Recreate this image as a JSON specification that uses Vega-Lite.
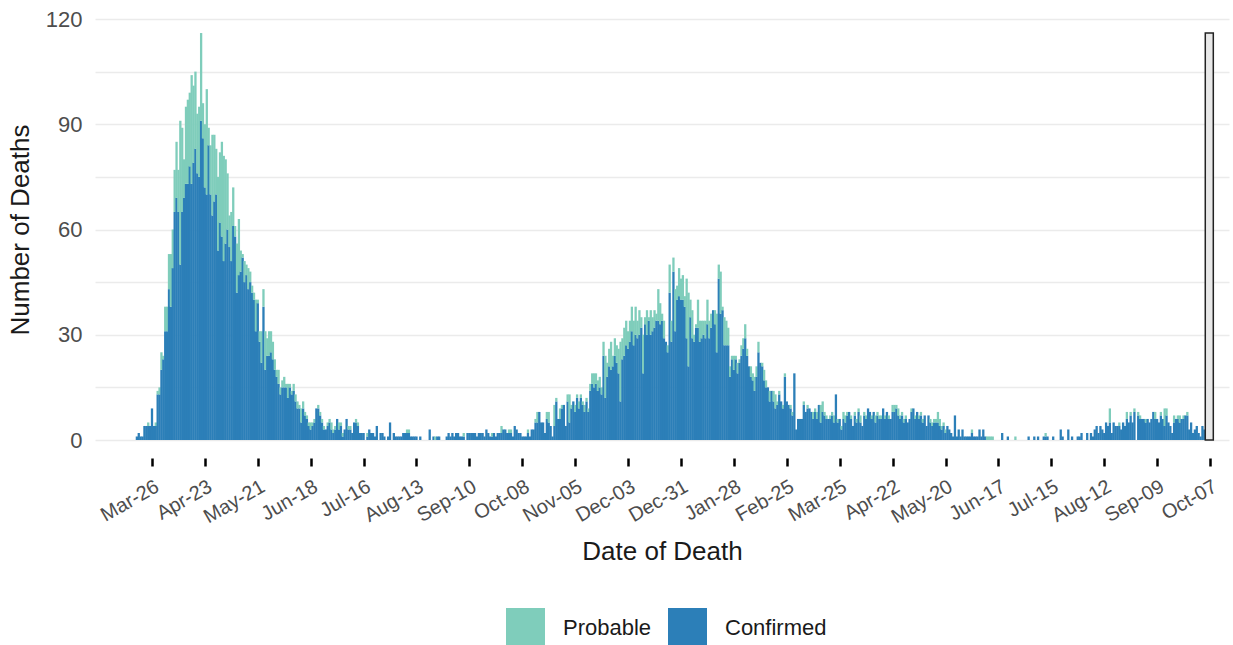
{
"$schema":"https://vega.github.io/schema/vega-lite/v6.json",
"width":1134,"height":421,
"autosize":{"type":"none"},
"padding":{"left":95,"top":19,"right":4,"bottom":205},
"background":"white",
"config":{"view":{"stroke":null},"font":"Liberation Sans"},
"layer":[
{
"data":{"values":[
{"date":"2020-03-18","Confirmed":1,"Probable":0},{"date":"2020-03-19","Confirmed":2,"Probable":0},{"date":"2020-03-20","Confirmed":1,"Probable":0},{"date":"2020-03-21","Confirmed":1,"Probable":0},{"date":"2020-03-22","Confirmed":4,"Probable":0},{"date":"2020-03-23","Confirmed":4,"Probable":0},{"date":"2020-03-24","Confirmed":4,"Probable":1},{"date":"2020-03-25","Confirmed":4,"Probable":0},{"date":"2020-03-26","Confirmed":9,"Probable":0},{"date":"2020-03-27","Confirmed":4,"Probable":0},{"date":"2020-03-28","Confirmed":4,"Probable":1},{"date":"2020-03-29","Confirmed":13,"Probable":1},{"date":"2020-03-30","Confirmed":13,"Probable":2},{"date":"2020-03-31","Confirmed":20,"Probable":5},
{"date":"2020-04-01","Confirmed":23,"Probable":1},{"date":"2020-04-02","Confirmed":31,"Probable":7},{"date":"2020-04-03","Confirmed":31,"Probable":7},{"date":"2020-04-04","Confirmed":43,"Probable":10},{"date":"2020-04-05","Confirmed":38,"Probable":15},{"date":"2020-04-06","Confirmed":49,"Probable":11},{"date":"2020-04-07","Confirmed":65,"Probable":12},{"date":"2020-04-08","Confirmed":69,"Probable":16},{"date":"2020-04-09","Confirmed":65,"Probable":12},{"date":"2020-04-10","Confirmed":50,"Probable":41},{"date":"2020-04-11","Confirmed":65,"Probable":24},{"date":"2020-04-12","Confirmed":69,"Probable":11},{"date":"2020-04-13","Confirmed":73,"Probable":22},{"date":"2020-04-14","Confirmed":73,"Probable":24},{"date":"2020-04-15","Confirmed":78,"Probable":21},{"date":"2020-04-16","Confirmed":73,"Probable":31},{"date":"2020-04-17","Confirmed":79,"Probable":22},{"date":"2020-04-18","Confirmed":83,"Probable":22},{"date":"2020-04-19","Confirmed":76,"Probable":17},{"date":"2020-04-20","Confirmed":75,"Probable":20},{"date":"2020-04-21","Confirmed":91,"Probable":25},{"date":"2020-04-22","Confirmed":86,"Probable":10},{"date":"2020-04-23","Confirmed":72,"Probable":18},{"date":"2020-04-24","Confirmed":70,"Probable":30},{"date":"2020-04-25","Confirmed":84,"Probable":5},{"date":"2020-04-26","Confirmed":70,"Probable":14},{"date":"2020-04-27","Confirmed":64,"Probable":23},{"date":"2020-04-28","Confirmed":68,"Probable":19},{"date":"2020-04-29","Confirmed":70,"Probable":13},{"date":"2020-04-30","Confirmed":54,"Probable":21},
{"date":"2020-05-01","Confirmed":62,"Probable":20},{"date":"2020-05-02","Confirmed":58,"Probable":27},{"date":"2020-05-03","Confirmed":51,"Probable":30},{"date":"2020-05-04","Confirmed":56,"Probable":24},{"date":"2020-05-05","Confirmed":60,"Probable":16},{"date":"2020-05-06","Confirmed":55,"Probable":9},{"date":"2020-05-07","Confirmed":51,"Probable":14},{"date":"2020-05-08","Confirmed":61,"Probable":11},{"date":"2020-05-09","Confirmed":58,"Probable":3},{"date":"2020-05-10","Confirmed":42,"Probable":14},{"date":"2020-05-11","Confirmed":47,"Probable":16},{"date":"2020-05-12","Confirmed":48,"Probable":6},{"date":"2020-05-13","Confirmed":52,"Probable":1},{"date":"2020-05-14","Confirmed":45,"Probable":6},{"date":"2020-05-15","Confirmed":47,"Probable":3},{"date":"2020-05-16","Confirmed":43,"Probable":6},{"date":"2020-05-17","Confirmed":45,"Probable":3},{"date":"2020-05-18","Confirmed":42,"Probable":2},{"date":"2020-05-19","Confirmed":40,"Probable":2},{"date":"2020-05-20","Confirmed":31,"Probable":9},{"date":"2020-05-21","Confirmed":39,"Probable":1},{"date":"2020-05-22","Confirmed":28,"Probable":3},{"date":"2020-05-23","Confirmed":22,"Probable":9},{"date":"2020-05-24","Confirmed":38,"Probable":5},{"date":"2020-05-25","Confirmed":20,"Probable":11},{"date":"2020-05-26","Confirmed":24,"Probable":5},{"date":"2020-05-27","Confirmed":24,"Probable":7},{"date":"2020-05-28","Confirmed":25,"Probable":6},{"date":"2020-05-29","Confirmed":23,"Probable":5},{"date":"2020-05-30","Confirmed":20,"Probable":3},{"date":"2020-05-31","Confirmed":18,"Probable":2},
{"date":"2020-06-01","Confirmed":16,"Probable":4},{"date":"2020-06-02","Confirmed":13,"Probable":2},{"date":"2020-06-03","Confirmed":15,"Probable":2},{"date":"2020-06-04","Confirmed":15,"Probable":3},{"date":"2020-06-05","Confirmed":15,"Probable":1},{"date":"2020-06-06","Confirmed":12,"Probable":4},{"date":"2020-06-07","Confirmed":15,"Probable":1},{"date":"2020-06-08","Confirmed":13,"Probable":1},{"date":"2020-06-09","Confirmed":14,"Probable":2},{"date":"2020-06-10","Confirmed":11,"Probable":2},{"date":"2020-06-11","Confirmed":9,"Probable":2},{"date":"2020-06-12","Confirmed":9,"Probable":1},{"date":"2020-06-13","Confirmed":5,"Probable":4},{"date":"2020-06-14","Confirmed":9,"Probable":2},{"date":"2020-06-15","Confirmed":7,"Probable":1},{"date":"2020-06-16","Confirmed":6,"Probable":1},{"date":"2020-06-17","Confirmed":4,"Probable":1},{"date":"2020-06-18","Confirmed":3,"Probable":2},{"date":"2020-06-19","Confirmed":4,"Probable":1},{"date":"2020-06-20","Confirmed":5,"Probable":1},{"date":"2020-06-21","Confirmed":9,"Probable":0},{"date":"2020-06-22","Confirmed":9,"Probable":1},{"date":"2020-06-23","Confirmed":7,"Probable":1},{"date":"2020-06-24","Confirmed":5,"Probable":1},{"date":"2020-06-25","Confirmed":3,"Probable":1},{"date":"2020-06-26","Confirmed":3,"Probable":0},{"date":"2020-06-27","Confirmed":4,"Probable":1},{"date":"2020-06-28","Confirmed":5,"Probable":1},{"date":"2020-06-29","Confirmed":3,"Probable":2},{"date":"2020-06-30","Confirmed":2,"Probable":1},
{"date":"2020-07-01","Confirmed":3,"Probable":1},{"date":"2020-07-02","Confirmed":6,"Probable":0},{"date":"2020-07-03","Confirmed":3,"Probable":2},{"date":"2020-07-04","Confirmed":4,"Probable":1},{"date":"2020-07-05","Confirmed":1,"Probable":1},{"date":"2020-07-06","Confirmed":3,"Probable":0},{"date":"2020-07-07","Confirmed":6,"Probable":0},{"date":"2020-07-08","Confirmed":3,"Probable":1},{"date":"2020-07-09","Confirmed":3,"Probable":1},{"date":"2020-07-10","Confirmed":2,"Probable":0},{"date":"2020-07-11","Confirmed":5,"Probable":0},{"date":"2020-07-12","Confirmed":5,"Probable":1},{"date":"2020-07-13","Confirmed":4,"Probable":1},{"date":"2020-07-14","Confirmed":2,"Probable":0},{"date":"2020-07-15","Confirmed":2,"Probable":0},{"date":"2020-07-16","Confirmed":2,"Probable":0},{"date":"2020-07-18","Confirmed":1,"Probable":1},{"date":"2020-07-19","Confirmed":3,"Probable":0},{"date":"2020-07-20","Confirmed":2,"Probable":0},{"date":"2020-07-21","Confirmed":2,"Probable":0},{"date":"2020-07-22","Confirmed":1,"Probable":0},{"date":"2020-07-23","Confirmed":4,"Probable":0},{"date":"2020-07-25","Confirmed":2,"Probable":0},{"date":"2020-07-26","Confirmed":2,"Probable":0},{"date":"2020-07-27","Confirmed":1,"Probable":0},{"date":"2020-07-29","Confirmed":1,"Probable":0},{"date":"2020-07-30","Confirmed":5,"Probable":0},
{"date":"2020-08-01","Confirmed":2,"Probable":0},{"date":"2020-08-02","Confirmed":1,"Probable":0},{"date":"2020-08-03","Confirmed":1,"Probable":0},{"date":"2020-08-04","Confirmed":1,"Probable":0},{"date":"2020-08-05","Confirmed":1,"Probable":0},{"date":"2020-08-06","Confirmed":2,"Probable":0},{"date":"2020-08-07","Confirmed":2,"Probable":0},{"date":"2020-08-08","Confirmed":2,"Probable":1},{"date":"2020-08-09","Confirmed":2,"Probable":1},{"date":"2020-08-10","Confirmed":1,"Probable":0},{"date":"2020-08-11","Confirmed":1,"Probable":0},{"date":"2020-08-12","Confirmed":1,"Probable":0},{"date":"2020-08-13","Confirmed":1,"Probable":0},{"date":"2020-08-15","Confirmed":1,"Probable":0},{"date":"2020-08-20","Confirmed":3,"Probable":0},{"date":"2020-08-22","Confirmed":1,"Probable":0},{"date":"2020-08-23","Confirmed":0,"Probable":1},{"date":"2020-08-24","Confirmed":1,"Probable":0},{"date":"2020-08-25","Confirmed":1,"Probable":0},{"date":"2020-08-29","Confirmed":1,"Probable":0},{"date":"2020-08-30","Confirmed":2,"Probable":0},{"date":"2020-08-31","Confirmed":1,"Probable":0},
{"date":"2020-09-01","Confirmed":2,"Probable":0},{"date":"2020-09-02","Confirmed":1,"Probable":0},{"date":"2020-09-03","Confirmed":2,"Probable":0},{"date":"2020-09-04","Confirmed":2,"Probable":0},{"date":"2020-09-05","Confirmed":1,"Probable":0},{"date":"2020-09-06","Confirmed":1,"Probable":0},{"date":"2020-09-07","Confirmed":1,"Probable":1},{"date":"2020-09-09","Confirmed":2,"Probable":0},{"date":"2020-09-10","Confirmed":2,"Probable":0},{"date":"2020-09-11","Confirmed":2,"Probable":0},{"date":"2020-09-12","Confirmed":2,"Probable":0},{"date":"2020-09-13","Confirmed":2,"Probable":0},{"date":"2020-09-14","Confirmed":1,"Probable":0},{"date":"2020-09-15","Confirmed":2,"Probable":0},{"date":"2020-09-16","Confirmed":2,"Probable":0},{"date":"2020-09-17","Confirmed":2,"Probable":0},{"date":"2020-09-18","Confirmed":1,"Probable":0},{"date":"2020-09-19","Confirmed":3,"Probable":0},{"date":"2020-09-20","Confirmed":2,"Probable":0},{"date":"2020-09-21","Confirmed":1,"Probable":0},{"date":"2020-09-22","Confirmed":1,"Probable":1},{"date":"2020-09-23","Confirmed":2,"Probable":0},{"date":"2020-09-24","Confirmed":1,"Probable":0},{"date":"2020-09-25","Confirmed":2,"Probable":0},{"date":"2020-09-26","Confirmed":2,"Probable":0},{"date":"2020-09-27","Confirmed":2,"Probable":2},{"date":"2020-09-28","Confirmed":3,"Probable":0},{"date":"2020-09-29","Confirmed":3,"Probable":0},{"date":"2020-09-30","Confirmed":2,"Probable":0},
{"date":"2020-10-01","Confirmed":2,"Probable":1},{"date":"2020-10-02","Confirmed":2,"Probable":1},{"date":"2020-10-03","Confirmed":1,"Probable":0},{"date":"2020-10-04","Confirmed":4,"Probable":0},{"date":"2020-10-05","Confirmed":3,"Probable":0},{"date":"2020-10-06","Confirmed":2,"Probable":0},{"date":"2020-10-07","Confirmed":2,"Probable":0},{"date":"2020-10-08","Confirmed":1,"Probable":0},{"date":"2020-10-09","Confirmed":1,"Probable":0},{"date":"2020-10-10","Confirmed":1,"Probable":0},{"date":"2020-10-11","Confirmed":2,"Probable":1},{"date":"2020-10-12","Confirmed":1,"Probable":0},{"date":"2020-10-13","Confirmed":3,"Probable":0},{"date":"2020-10-14","Confirmed":3,"Probable":0},{"date":"2020-10-15","Confirmed":5,"Probable":1},{"date":"2020-10-16","Confirmed":5,"Probable":3},{"date":"2020-10-17","Confirmed":8,"Probable":0},{"date":"2020-10-18","Confirmed":5,"Probable":0},{"date":"2020-10-19","Confirmed":5,"Probable":0},{"date":"2020-10-20","Confirmed":2,"Probable":0},{"date":"2020-10-21","Confirmed":6,"Probable":2},{"date":"2020-10-22","Confirmed":5,"Probable":3},{"date":"2020-10-23","Confirmed":4,"Probable":0},{"date":"2020-10-24","Confirmed":1,"Probable":0},{"date":"2020-10-25","Confirmed":4,"Probable":6},{"date":"2020-10-26","Confirmed":11,"Probable":1},{"date":"2020-10-27","Confirmed":6,"Probable":0},{"date":"2020-10-28","Confirmed":6,"Probable":3},{"date":"2020-10-29","Confirmed":9,"Probable":1},{"date":"2020-10-30","Confirmed":10,"Probable":0},{"date":"2020-10-31","Confirmed":4,"Probable":0},
{"date":"2020-11-01","Confirmed":11,"Probable":2},{"date":"2020-11-02","Confirmed":5,"Probable":8},{"date":"2020-11-03","Confirmed":9,"Probable":1},{"date":"2020-11-04","Confirmed":11,"Probable":0},{"date":"2020-11-05","Confirmed":8,"Probable":2},{"date":"2020-11-06","Confirmed":12,"Probable":1},{"date":"2020-11-07","Confirmed":9,"Probable":2},{"date":"2020-11-08","Confirmed":12,"Probable":1},{"date":"2020-11-09","Confirmed":10,"Probable":1},{"date":"2020-11-10","Confirmed":8,"Probable":2},{"date":"2020-11-11","Confirmed":11,"Probable":1},{"date":"2020-11-12","Confirmed":8,"Probable":1},{"date":"2020-11-13","Confirmed":14,"Probable":2},{"date":"2020-11-14","Confirmed":16,"Probable":3},{"date":"2020-11-15","Confirmed":15,"Probable":4},{"date":"2020-11-16","Confirmed":16,"Probable":3},{"date":"2020-11-17","Confirmed":14,"Probable":3},{"date":"2020-11-18","Confirmed":15,"Probable":3},{"date":"2020-11-19","Confirmed":13,"Probable":2},{"date":"2020-11-20","Confirmed":24,"Probable":4},{"date":"2020-11-21","Confirmed":12,"Probable":12},{"date":"2020-11-22","Confirmed":18,"Probable":4},{"date":"2020-11-23","Confirmed":21,"Probable":5},{"date":"2020-11-24","Confirmed":20,"Probable":8},{"date":"2020-11-25","Confirmed":21,"Probable":3},{"date":"2020-11-26","Confirmed":24,"Probable":5},{"date":"2020-11-27","Confirmed":22,"Probable":5},{"date":"2020-11-28","Confirmed":19,"Probable":7},{"date":"2020-11-29","Confirmed":11,"Probable":17},{"date":"2020-11-30","Confirmed":23,"Probable":6},
{"date":"2020-12-01","Confirmed":24,"Probable":8},{"date":"2020-12-02","Confirmed":27,"Probable":7},{"date":"2020-12-03","Confirmed":26,"Probable":5},{"date":"2020-12-04","Confirmed":28,"Probable":6},{"date":"2020-12-05","Confirmed":31,"Probable":7},{"date":"2020-12-06","Confirmed":27,"Probable":7},{"date":"2020-12-07","Confirmed":30,"Probable":8},{"date":"2020-12-08","Confirmed":29,"Probable":5},{"date":"2020-12-09","Confirmed":30,"Probable":7},{"date":"2020-12-10","Confirmed":32,"Probable":3},{"date":"2020-12-11","Confirmed":19,"Probable":11},{"date":"2020-12-12","Confirmed":33,"Probable":2},{"date":"2020-12-13","Confirmed":30,"Probable":7},{"date":"2020-12-14","Confirmed":34,"Probable":1},{"date":"2020-12-15","Confirmed":30,"Probable":7},{"date":"2020-12-16","Confirmed":31,"Probable":4},{"date":"2020-12-17","Confirmed":32,"Probable":5},{"date":"2020-12-18","Confirmed":34,"Probable":2},{"date":"2020-12-19","Confirmed":34,"Probable":9},{"date":"2020-12-20","Confirmed":33,"Probable":6},{"date":"2020-12-21","Confirmed":34,"Probable":2},{"date":"2020-12-22","Confirmed":29,"Probable":5},{"date":"2020-12-23","Confirmed":28,"Probable":0},{"date":"2020-12-24","Confirmed":25,"Probable":2},{"date":"2020-12-25","Confirmed":42,"Probable":8},{"date":"2020-12-26","Confirmed":28,"Probable":6},{"date":"2020-12-27","Confirmed":48,"Probable":4},{"date":"2020-12-28","Confirmed":31,"Probable":12},{"date":"2020-12-29","Confirmed":40,"Probable":4},{"date":"2020-12-30","Confirmed":41,"Probable":8},{"date":"2020-12-31","Confirmed":40,"Probable":6},
{"date":"2021-01-01","Confirmed":40,"Probable":7},{"date":"2021-01-02","Confirmed":38,"Probable":3},{"date":"2021-01-03","Confirmed":29,"Probable":17},{"date":"2021-01-04","Confirmed":21,"Probable":21},{"date":"2021-01-05","Confirmed":35,"Probable":5},{"date":"2021-01-06","Confirmed":29,"Probable":8},{"date":"2021-01-07","Confirmed":28,"Probable":2},{"date":"2021-01-08","Confirmed":32,"Probable":1},{"date":"2021-01-09","Confirmed":32,"Probable":8},{"date":"2021-01-10","Confirmed":28,"Probable":6},{"date":"2021-01-11","Confirmed":29,"Probable":5},{"date":"2021-01-12","Confirmed":30,"Probable":4},{"date":"2021-01-13","Confirmed":29,"Probable":5},{"date":"2021-01-14","Confirmed":33,"Probable":7},{"date":"2021-01-15","Confirmed":29,"Probable":5},{"date":"2021-01-16","Confirmed":32,"Probable":4},{"date":"2021-01-17","Confirmed":37,"Probable":0},{"date":"2021-01-18","Confirmed":33,"Probable":4},{"date":"2021-01-19","Confirmed":25,"Probable":11},{"date":"2021-01-20","Confirmed":46,"Probable":4},{"date":"2021-01-21","Confirmed":36,"Probable":12},{"date":"2021-01-22","Confirmed":37,"Probable":1},{"date":"2021-01-23","Confirmed":27,"Probable":8},{"date":"2021-01-24","Confirmed":27,"Probable":7},{"date":"2021-01-25","Confirmed":27,"Probable":5},{"date":"2021-01-26","Confirmed":18,"Probable":3},{"date":"2021-01-27","Confirmed":23,"Probable":1},{"date":"2021-01-28","Confirmed":20,"Probable":4},{"date":"2021-01-29","Confirmed":23,"Probable":1},{"date":"2021-01-30","Confirmed":19,"Probable":3},{"date":"2021-01-31","Confirmed":22,"Probable":1},
{"date":"2021-02-01","Confirmed":24,"Probable":3},{"date":"2021-02-02","Confirmed":26,"Probable":3},{"date":"2021-02-03","Confirmed":29,"Probable":4},{"date":"2021-02-04","Confirmed":24,"Probable":2},{"date":"2021-02-05","Confirmed":21,"Probable":0},{"date":"2021-02-06","Confirmed":18,"Probable":3},{"date":"2021-02-07","Confirmed":17,"Probable":2},{"date":"2021-02-08","Confirmed":14,"Probable":4},{"date":"2021-02-09","Confirmed":18,"Probable":3},{"date":"2021-02-10","Confirmed":25,"Probable":3},{"date":"2021-02-11","Confirmed":22,"Probable":0},{"date":"2021-02-12","Confirmed":21,"Probable":1},{"date":"2021-02-13","Confirmed":17,"Probable":3},{"date":"2021-02-14","Confirmed":15,"Probable":2},{"date":"2021-02-15","Confirmed":15,"Probable":0},{"date":"2021-02-16","Confirmed":11,"Probable":3},{"date":"2021-02-17","Confirmed":14,"Probable":0},{"date":"2021-02-18","Confirmed":11,"Probable":3},{"date":"2021-02-19","Confirmed":9,"Probable":4},{"date":"2021-02-20","Confirmed":10,"Probable":1},{"date":"2021-02-21","Confirmed":13,"Probable":1},{"date":"2021-02-22","Confirmed":11,"Probable":0},{"date":"2021-02-23","Confirmed":9,"Probable":1},{"date":"2021-02-24","Confirmed":18,"Probable":1},{"date":"2021-02-25","Confirmed":11,"Probable":0},{"date":"2021-02-26","Confirmed":10,"Probable":0},{"date":"2021-02-27","Confirmed":9,"Probable":1},{"date":"2021-02-28","Confirmed":7,"Probable":1},
{"date":"2021-03-01","Confirmed":19,"Probable":0},{"date":"2021-03-02","Confirmed":3,"Probable":0},{"date":"2021-03-03","Confirmed":6,"Probable":0},{"date":"2021-03-04","Confirmed":6,"Probable":0},{"date":"2021-03-05","Confirmed":6,"Probable":0},{"date":"2021-03-06","Confirmed":10,"Probable":1},{"date":"2021-03-07","Confirmed":8,"Probable":0},{"date":"2021-03-08","Confirmed":9,"Probable":1},{"date":"2021-03-09","Confirmed":9,"Probable":0},{"date":"2021-03-10","Confirmed":8,"Probable":0},{"date":"2021-03-11","Confirmed":6,"Probable":2},{"date":"2021-03-12","Confirmed":8,"Probable":1},{"date":"2021-03-13","Confirmed":6,"Probable":2},{"date":"2021-03-14","Confirmed":10,"Probable":0},{"date":"2021-03-15","Confirmed":5,"Probable":5},{"date":"2021-03-16","Confirmed":8,"Probable":3},{"date":"2021-03-17","Confirmed":7,"Probable":1},{"date":"2021-03-18","Confirmed":6,"Probable":1},{"date":"2021-03-19","Confirmed":6,"Probable":0},{"date":"2021-03-20","Confirmed":6,"Probable":1},{"date":"2021-03-21","Confirmed":7,"Probable":1},{"date":"2021-03-22","Confirmed":5,"Probable":2},{"date":"2021-03-23","Confirmed":13,"Probable":0},{"date":"2021-03-24","Confirmed":5,"Probable":1},{"date":"2021-03-25","Confirmed":6,"Probable":0},{"date":"2021-03-26","Confirmed":3,"Probable":1},{"date":"2021-03-27","Confirmed":6,"Probable":2},{"date":"2021-03-28","Confirmed":5,"Probable":2},{"date":"2021-03-29","Confirmed":7,"Probable":1},{"date":"2021-03-30","Confirmed":8,"Probable":0},{"date":"2021-03-31","Confirmed":6,"Probable":1},
{"date":"2021-04-01","Confirmed":4,"Probable":0},{"date":"2021-04-02","Confirmed":7,"Probable":1},{"date":"2021-04-03","Confirmed":5,"Probable":1},{"date":"2021-04-04","Confirmed":8,"Probable":1},{"date":"2021-04-05","Confirmed":5,"Probable":2},{"date":"2021-04-06","Confirmed":4,"Probable":0},{"date":"2021-04-07","Confirmed":7,"Probable":1},{"date":"2021-04-08","Confirmed":6,"Probable":1},{"date":"2021-04-09","Confirmed":9,"Probable":0},{"date":"2021-04-10","Confirmed":8,"Probable":0},{"date":"2021-04-11","Confirmed":6,"Probable":1},{"date":"2021-04-12","Confirmed":8,"Probable":0},{"date":"2021-04-13","Confirmed":5,"Probable":2},{"date":"2021-04-14","Confirmed":7,"Probable":1},{"date":"2021-04-15","Confirmed":6,"Probable":1},{"date":"2021-04-16","Confirmed":6,"Probable":1},{"date":"2021-04-17","Confirmed":9,"Probable":0},{"date":"2021-04-18","Confirmed":6,"Probable":1},{"date":"2021-04-19","Confirmed":8,"Probable":0},{"date":"2021-04-20","Confirmed":6,"Probable":1},{"date":"2021-04-21","Confirmed":6,"Probable":0},{"date":"2021-04-22","Confirmed":8,"Probable":2},{"date":"2021-04-23","Confirmed":8,"Probable":2},{"date":"2021-04-24","Confirmed":9,"Probable":1},{"date":"2021-04-25","Confirmed":7,"Probable":2},{"date":"2021-04-26","Confirmed":6,"Probable":1},{"date":"2021-04-27","Confirmed":7,"Probable":1},{"date":"2021-04-28","Confirmed":5,"Probable":1},{"date":"2021-04-29","Confirmed":6,"Probable":1},{"date":"2021-04-30","Confirmed":5,"Probable":0},
{"date":"2021-05-01","Confirmed":6,"Probable":0},{"date":"2021-05-02","Confirmed":8,"Probable":1},{"date":"2021-05-03","Confirmed":9,"Probable":0},{"date":"2021-05-04","Confirmed":6,"Probable":1},{"date":"2021-05-05","Confirmed":8,"Probable":0},{"date":"2021-05-06","Confirmed":6,"Probable":1},{"date":"2021-05-07","Confirmed":7,"Probable":1},{"date":"2021-05-08","Confirmed":5,"Probable":1},{"date":"2021-05-09","Confirmed":7,"Probable":0},{"date":"2021-05-10","Confirmed":4,"Probable":0},{"date":"2021-05-11","Confirmed":7,"Probable":0},{"date":"2021-05-12","Confirmed":5,"Probable":1},{"date":"2021-05-13","Confirmed":4,"Probable":1},{"date":"2021-05-14","Confirmed":5,"Probable":1},{"date":"2021-05-15","Confirmed":5,"Probable":1},{"date":"2021-05-16","Confirmed":5,"Probable":3},{"date":"2021-05-17","Confirmed":4,"Probable":2},{"date":"2021-05-18","Confirmed":3,"Probable":1},{"date":"2021-05-19","Confirmed":4,"Probable":1},{"date":"2021-05-20","Confirmed":2,"Probable":1},{"date":"2021-05-21","Confirmed":4,"Probable":0},{"date":"2021-05-22","Confirmed":3,"Probable":0},{"date":"2021-05-23","Confirmed":2,"Probable":0},{"date":"2021-05-24","Confirmed":1,"Probable":0},{"date":"2021-05-25","Confirmed":7,"Probable":0},{"date":"2021-05-26","Confirmed":1,"Probable":0},{"date":"2021-05-27","Confirmed":3,"Probable":0},{"date":"2021-05-28","Confirmed":1,"Probable":0},{"date":"2021-05-29","Confirmed":3,"Probable":0},{"date":"2021-05-30","Confirmed":1,"Probable":0},{"date":"2021-05-31","Confirmed":1,"Probable":0},
{"date":"2021-06-01","Confirmed":1,"Probable":0},{"date":"2021-06-02","Confirmed":1,"Probable":0},{"date":"2021-06-03","Confirmed":2,"Probable":1},{"date":"2021-06-04","Confirmed":1,"Probable":0},{"date":"2021-06-05","Confirmed":1,"Probable":0},{"date":"2021-06-06","Confirmed":1,"Probable":0},{"date":"2021-06-07","Confirmed":3,"Probable":0},{"date":"2021-06-08","Confirmed":1,"Probable":0},{"date":"2021-06-09","Confirmed":3,"Probable":0},{"date":"2021-06-10","Confirmed":1,"Probable":0},{"date":"2021-06-11","Confirmed":0,"Probable":1},{"date":"2021-06-12","Confirmed":0,"Probable":1},{"date":"2021-06-13","Confirmed":0,"Probable":1},{"date":"2021-06-14","Confirmed":0,"Probable":1},{"date":"2021-06-19","Confirmed":2,"Probable":0},{"date":"2021-06-22","Confirmed":1,"Probable":0},{"date":"2021-06-26","Confirmed":0,"Probable":1},
{"date":"2021-07-03","Confirmed":1,"Probable":0},{"date":"2021-07-06","Confirmed":1,"Probable":0},{"date":"2021-07-08","Confirmed":1,"Probable":0},{"date":"2021-07-11","Confirmed":1,"Probable":0},{"date":"2021-07-12","Confirmed":1,"Probable":1},{"date":"2021-07-13","Confirmed":1,"Probable":0},{"date":"2021-07-16","Confirmed":1,"Probable":0},{"date":"2021-07-20","Confirmed":3,"Probable":0},{"date":"2021-07-21","Confirmed":1,"Probable":0},{"date":"2021-07-24","Confirmed":3,"Probable":0},{"date":"2021-07-26","Confirmed":1,"Probable":0},{"date":"2021-07-29","Confirmed":1,"Probable":0},{"date":"2021-07-30","Confirmed":1,"Probable":0},{"date":"2021-07-31","Confirmed":2,"Probable":0},
{"date":"2021-08-03","Confirmed":2,"Probable":0},{"date":"2021-08-05","Confirmed":2,"Probable":0},{"date":"2021-08-06","Confirmed":1,"Probable":0},{"date":"2021-08-07","Confirmed":3,"Probable":0},{"date":"2021-08-08","Confirmed":4,"Probable":0},{"date":"2021-08-09","Confirmed":2,"Probable":0},{"date":"2021-08-10","Confirmed":4,"Probable":0},{"date":"2021-08-11","Confirmed":3,"Probable":0},{"date":"2021-08-12","Confirmed":2,"Probable":0},{"date":"2021-08-13","Confirmed":5,"Probable":0},{"date":"2021-08-14","Confirmed":4,"Probable":0},{"date":"2021-08-15","Confirmed":5,"Probable":4},{"date":"2021-08-16","Confirmed":2,"Probable":0},{"date":"2021-08-17","Confirmed":5,"Probable":0},{"date":"2021-08-18","Confirmed":4,"Probable":0},{"date":"2021-08-19","Confirmed":4,"Probable":0},{"date":"2021-08-20","Confirmed":4,"Probable":1},{"date":"2021-08-21","Confirmed":3,"Probable":0},{"date":"2021-08-22","Confirmed":5,"Probable":0},{"date":"2021-08-23","Confirmed":4,"Probable":0},{"date":"2021-08-24","Confirmed":6,"Probable":2},{"date":"2021-08-25","Confirmed":5,"Probable":0},{"date":"2021-08-26","Confirmed":7,"Probable":1},{"date":"2021-08-27","Confirmed":5,"Probable":0},{"date":"2021-08-28","Confirmed":8,"Probable":1},{"date":"2021-08-30","Confirmed":7,"Probable":1},{"date":"2021-08-31","Confirmed":6,"Probable":1},
{"date":"2021-09-01","Confirmed":6,"Probable":0},{"date":"2021-09-02","Confirmed":6,"Probable":0},{"date":"2021-09-03","Confirmed":5,"Probable":1},{"date":"2021-09-04","Confirmed":6,"Probable":0},{"date":"2021-09-05","Confirmed":5,"Probable":0},{"date":"2021-09-06","Confirmed":6,"Probable":0},{"date":"2021-09-07","Confirmed":8,"Probable":0},{"date":"2021-09-08","Confirmed":6,"Probable":2},{"date":"2021-09-09","Confirmed":6,"Probable":0},{"date":"2021-09-10","Confirmed":5,"Probable":0},{"date":"2021-09-11","Confirmed":7,"Probable":1},{"date":"2021-09-12","Confirmed":6,"Probable":0},{"date":"2021-09-13","Confirmed":4,"Probable":5},{"date":"2021-09-14","Confirmed":7,"Probable":2},{"date":"2021-09-15","Confirmed":5,"Probable":0},{"date":"2021-09-16","Confirmed":4,"Probable":0},{"date":"2021-09-17","Confirmed":2,"Probable":0},{"date":"2021-09-18","Confirmed":5,"Probable":2},{"date":"2021-09-19","Confirmed":6,"Probable":0},{"date":"2021-09-20","Confirmed":6,"Probable":1},{"date":"2021-09-21","Confirmed":5,"Probable":2},{"date":"2021-09-22","Confirmed":6,"Probable":0},{"date":"2021-09-23","Confirmed":6,"Probable":1},{"date":"2021-09-24","Confirmed":7,"Probable":0},{"date":"2021-09-25","Confirmed":7,"Probable":1},{"date":"2021-09-26","Confirmed":3,"Probable":0},{"date":"2021-09-27","Confirmed":5,"Probable":0},{"date":"2021-09-28","Confirmed":2,"Probable":0},{"date":"2021-09-29","Confirmed":3,"Probable":0},{"date":"2021-09-30","Confirmed":4,"Probable":0},
{"date":"2021-10-01","Confirmed":2,"Probable":0},{"date":"2021-10-02","Confirmed":1,"Probable":0},{"date":"2021-10-03","Confirmed":4,"Probable":0},{"date":"2021-10-04","Confirmed":3,"Probable":0}
]},
"transform":[{"fold":["Confirmed","Probable"],"as":["type","n"]}],
"mark":{"type":"bar","width":2.3,"opacity":1,"strokeWidth":0},
"encoding":{
"x":{"field":"date","type":"temporal","title":"Date of Death",
"scale":{"type":"utc","padding":0,"domain":[{"year":2020,"month":2,"date":24,"hours":20,"utc":true},{"year":2021,"month":10,"date":17,"hours":1,"minutes":20,"utc":true}]},
"axis":{"values":[
{"year":2020,"month":3,"date":26,"utc":true},{"year":2020,"month":4,"date":23,"utc":true},{"year":2020,"month":5,"date":21,"utc":true},{"year":2020,"month":6,"date":18,"utc":true},{"year":2020,"month":7,"date":16,"utc":true},{"year":2020,"month":8,"date":13,"utc":true},{"year":2020,"month":9,"date":10,"utc":true},{"year":2020,"month":10,"date":8,"utc":true},{"year":2020,"month":11,"date":5,"utc":true},{"year":2020,"month":12,"date":3,"utc":true},{"year":2020,"month":12,"date":31,"utc":true},{"year":2021,"month":1,"date":28,"utc":true},{"year":2021,"month":2,"date":25,"utc":true},{"year":2021,"month":3,"date":25,"utc":true},{"year":2021,"month":4,"date":22,"utc":true},{"year":2021,"month":5,"date":20,"utc":true},{"year":2021,"month":6,"date":17,"utc":true},{"year":2021,"month":7,"date":15,"utc":true},{"year":2021,"month":8,"date":12,"utc":true},{"year":2021,"month":9,"date":9,"utc":true},{"year":2021,"month":10,"date":7,"utc":true}],
"format":"%b-%d","labelAngle":-30,"labelAlign":"right","labelBaseline":"top","labelFontSize":20,"labelColor":"#4d4d4d","labelPadding":10,"labelOverlap":false,"labelFlush":false,
"tickColor":"#000000","tickWidth":2.5,"tickSize":8,"offset":18,"domain":false,"grid":false,
"titleFontSize":26,"titleFontWeight":"normal","titleColor":"#1a1a1a","titlePadding":12}},
"y":{"field":"n","type":"quantitative","stack":"zero","title":"Number of Deaths",
"scale":{"domain":[0,120],"nice":false},
"axis":{"values":[0,15,30,45,60,75,90,105,120],"labelExpr":"datum.value % 30 === 0 ? datum.label : ''","ticks":false,"domain":false,"gridColor":"#ebebeb","gridWidth":1.5,"labelFontSize":22,"labelColor":"#4d4d4d","labelPadding":13,"titleFontSize":26,"titleFontWeight":"normal","titleColor":"#1a1a1a","titlePadding":12}},
"color":{"field":"type","type":"nominal","scale":{"domain":["Probable","Confirmed"],"range":["#7fcdbb","#2c7fb8"]},
"legend":{"title":null,"orient":"none","legendX":411,"legendY":589,"direction":"horizontal","symbolType":"square","symbolSize":1521,"symbolStrokeWidth":0,"symbolOpacity":1,"labelFontSize":22,"labelColor":"#1a1a1a","labelOffset":18,"columnPadding":16,"padding":0}},
"order":{"field":"type","sort":"ascending"}
}
},
{
"data":{"values":[{"start":"2021-10-04T12:00:00Z","end":"2021-10-08T18:00:00Z","top":116}]},
"mark":{"type":"rect","fill":"#e8e8e8","stroke":"#222222","strokeWidth":1.5,"opacity":1},
"encoding":{
"x":{"field":"start","type":"temporal","title":"Date of Death","scale":{"type":"utc","padding":0}},
"x2":{"field":"end"},
"y":{"field":"top","type":"quantitative","title":"Number of Deaths"},
"y2":{"datum":0}
}
}
]
}
